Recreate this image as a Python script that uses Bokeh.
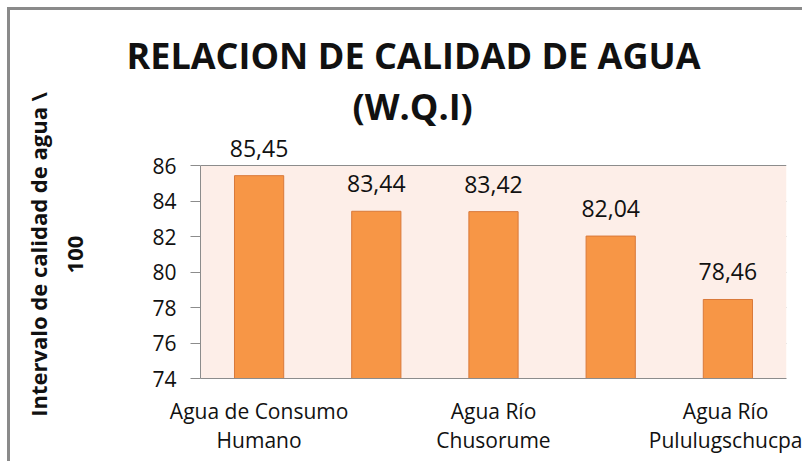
from bokeh.plotting import figure
from bokeh.models import ColumnDataSource, LabelSet, Title, FixedTicker, Range1d, BoxAnnotation
from bokeh.embed import file_html
from bokeh.resources import INLINE
from bokeh.core.properties import value

# ---- data ----
# Excel hides every second category label on this axis; only 1, 3, 5 are visible
categories = ["Agua de Consumo\nHumano", "", "Agua Río\nChusorume", "", "Agua Río\nPululugschucpa"]
values = [85.45, 83.44, 83.42, 82.04, 78.46]
y_ticks = [74, 76, 78, 80, 82, 84, 86]
title_lines = ["RELACION DE CALIDAD DE AGUA", "(W.Q.I)"]
y_label = "Intervalo de calidad de agua \\\n100"

xs = list(range(1, len(values) + 1))
labels = [f"{v:.2f}".replace(".", ",") for v in values]
src = ColumnDataSource(dict(x=xs, top=values, label=labels))

FONT = "Open Sans"
GRID = "#8c8c8c"
TXT = "#111111"

# y range extends a little above the last tick so the value labels stay visible
p = figure(width=795, height=454, output_backend="svg", toolbar_location=None,
           x_range=Range1d(0.5, len(values) + 0.5), y_range=Range1d(y_ticks[0], 88.0),
           min_border_left=190, min_border_right=19, min_border_top=120, min_border_bottom=86)
# chart-area border (Excel chart frame, visible on the left and top)
p.styles = {"margin-left": "7px", "margin-top": "7px",
            "border-left": "3px solid #8a8a8a", "border-top": "3px solid #8a8a8a"}

p.background_fill_color = "white"
p.border_fill_color = "white"
p.outline_line_color = None

# plot-area shading between the first and last tick
p.add_layout(BoxAnnotation(bottom=y_ticks[0], top=y_ticks[-1], fill_color="#fdeee8",
                           fill_alpha=1, line_color=None, level="underlay"))

p.vbar(x="x", top="top", bottom=y_ticks[0], width=0.42, source=src,
       fill_color="#f79646", line_color="#d9793a", line_width=1)

p.add_layout(LabelSet(x="x", y="top", text="label", source=src, text_align="center",
                      text_baseline="alphabetic", y_offset=19, text_font=value(FONT),
                      text_font_size="23px", text_color=TXT))

# axes
p.xaxis.ticker = FixedTicker(ticks=xs)
p.xaxis.major_label_overrides = {x: c for x, c in zip(xs, categories)}
p.xaxis.major_tick_line_color = None
p.xaxis.minor_tick_line_color = None
p.xaxis.axis_line_color = GRID
p.xaxis.major_label_text_font = FONT
p.xaxis.major_label_text_font_size = "21px"
p.xaxis.major_label_text_line_height = 1.05
p.xaxis.major_label_text_color = TXT
p.xaxis.major_label_standoff = 12

p.yaxis.bounds = (y_ticks[0], y_ticks[-1])
p.yaxis.ticker = FixedTicker(ticks=y_ticks)
p.yaxis.major_tick_out = 10
p.yaxis.major_tick_in = 0
p.yaxis.minor_tick_line_color = None
p.yaxis.axis_line_color = GRID
p.yaxis.major_tick_line_color = GRID
p.yaxis.major_label_text_font = FONT
p.yaxis.major_label_text_font_size = "21px"
p.yaxis.major_label_text_color = TXT
p.yaxis.major_label_standoff = 14
p.yaxis.axis_label = y_label
p.yaxis.axis_label_text_font = FONT
p.yaxis.axis_label_text_font_size = "22px"
p.yaxis.axis_label_text_font_style = "bold"
p.yaxis.axis_label_text_color = TXT
p.yaxis.axis_label_standoff = 60

p.xgrid.grid_line_color = None
p.ygrid.ticker = FixedTicker(ticks=y_ticks)
p.ygrid.grid_line_color = GRID
p.ygrid.grid_line_width = 1

# two-line chart title, centred on the whole chart area (offset from frame's left edge)
p.add_layout(Title(text=title_lines[1], align="left", offset=152, standoff=0,
                   text_font=FONT, text_font_size="36px", text_font_style="bold",
                   text_color=TXT), "above")
p.add_layout(Title(text=title_lines[0], align="left", offset=-74, standoff=0,
                   text_font=FONT, text_font_size="36px", text_font_style="bold",
                   text_color=TXT), "above")

open("out.html", "w").write(file_html(p, INLINE))
